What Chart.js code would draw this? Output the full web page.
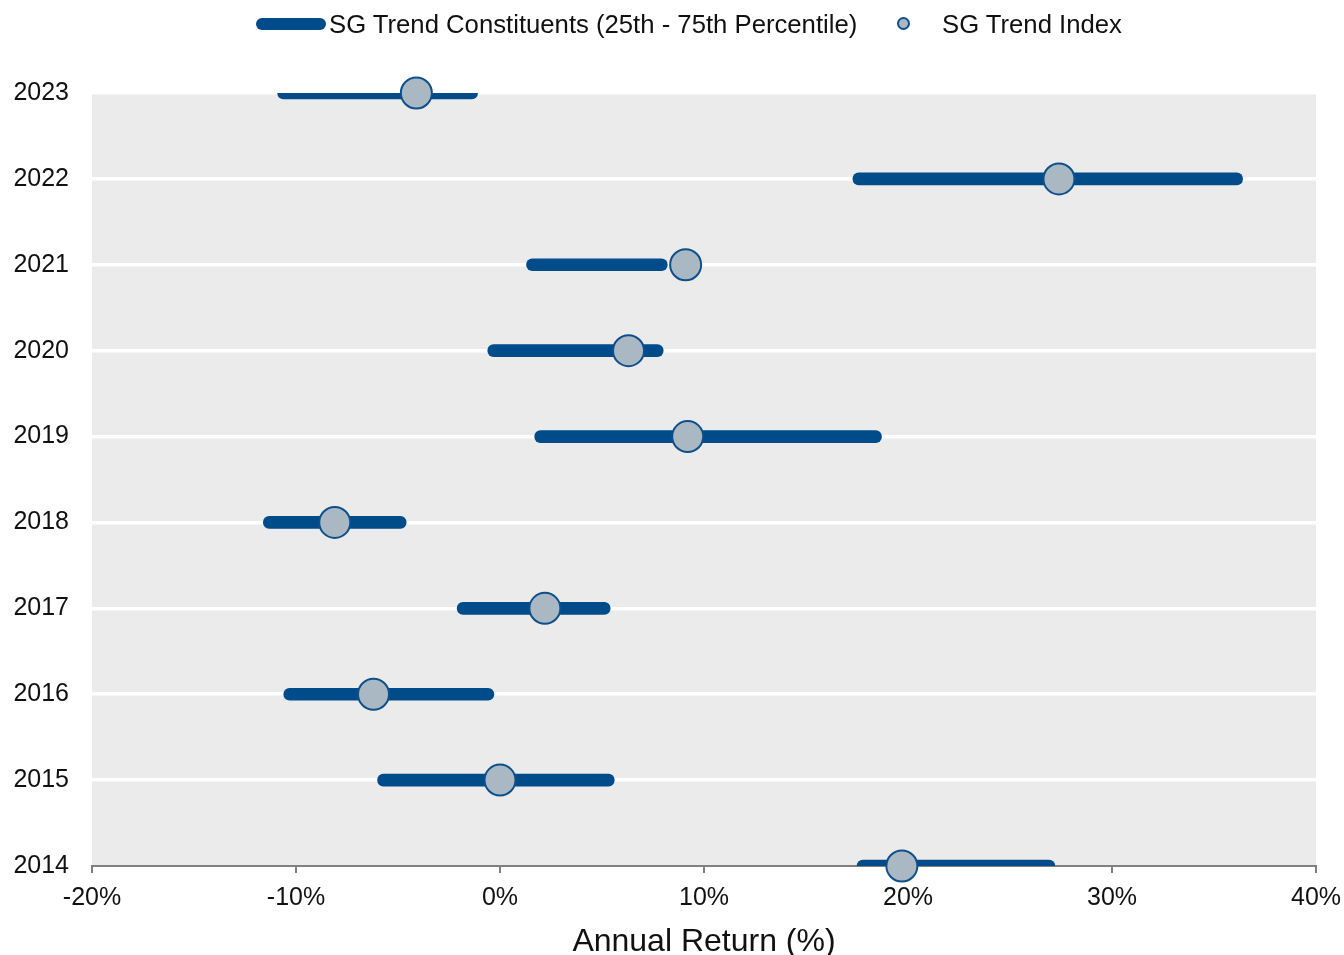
<!DOCTYPE html>
<html>
<head>
<meta charset="utf-8">
<script src="https://cdn.jsdelivr.net/npm/chart.js@4.4.0/dist/chart.umd.min.js"></script>
<style>
    html, body { margin: 0; padding: 0; background: #fff; }
    #wrap { position: relative; width: 1344px; height: 955px; }
    #legend {
        position: absolute; top: 8px; left: 0; width: 1344px; height: 32px;
        font-family: "Liberation Sans", Arial, sans-serif; font-size: 25.7px; color: #111;
    }
    .lg-item { position: absolute; top: 0; line-height: 32px; white-space: nowrap; }
    .lg-line { position: absolute; width: 70px; height: 12px; border-radius: 6px; background: #004c8a; top: 10px; }
    .lg-dot { position: absolute; width: 9px; height: 9px; border-radius: 50%; background: #a9b8c3; border: 2px solid #0d4f8b; top: 9px; }
</style>
</head>
<body>
<div id="wrap">
    <canvas id="chart"></canvas>
    <div id="legend">
        <div class="lg-line" style="left:256px"></div>
        <div class="lg-item" style="left:329px">SG Trend Constituents (25th - 75th Percentile)</div>
        <div class="lg-dot" style="left:897px"></div>
        <div class="lg-item" style="left:942px">SG Trend Index</div>
    </div>
</div>
<script>
// --- DATA ---
const years = ['2023', '2022', '2021', '2020', '2019', '2018', '2017', '2016', '2015', '2014'];
const pct25 = [-10.9, 17.3, 1.3, -0.6, 1.7, -11.6, -2.1, -10.6, -6.0, 17.5];
const pct75 = [-1.1, 36.4, 8.2, 8.0, 18.7, -4.6, 5.4, -0.3, 5.6, 27.2];
const indexReturn = [-4.1, 27.4, 9.1, 6.3, 9.2, -8.1, 2.2, -6.2, 0.0, 19.7];
const xTicks = [-20, -10, 0, 10, 20, 30, 40];

const BLUE = '#004c8a';
const FONT = '"Liberation Sans", Arial, sans-serif';

// grey plot background
const plotBackground = {
    id: 'plotBackground',
    beforeDraw(chart) {
        const { ctx, chartArea: a } = chart;
        ctx.save();
        ctx.fillStyle = '#ebebeb';
        ctx.fillRect(a.left, a.top, a.right - a.left, a.bottom - a.top);
        ctx.restore();
    }
};

new Chart(document.getElementById('chart'), {
    type: 'bar',
    data: {
        labels: years,
        datasets: [
            {
                type: 'line',
                label: 'SG Trend Index',
                data: indexReturn,
                showLine: false,
                pointRadius: 15.5,
                pointBackgroundColor: '#a9b8c3',
                pointBorderColor: '#0d4f8b',
                pointBorderWidth: 2,
                clip: false,
                order: 0
            },
            {
                label: 'SG Trend Constituents (25th - 75th Percentile)',
                data: years.map((y, i) => [pct25[i], pct75[i]]),
                backgroundColor: BLUE,
                barThickness: 12,
                borderRadius: 6,
                borderSkipped: false,
                clip: 0,
                order: 1
            }
        ]
    },
    options: {
        indexAxis: 'y',
        responsive: true,
        maintainAspectRatio: false,
        animation: false,
        layout: { padding: { top: 93, right: 28, left: 0, bottom: 0 } },
        plugins: {
            legend: { display: false },
            tooltip: { enabled: false }
        },
        scales: {
            x: {
                type: 'linear',
                min: -20,
                max: 40,
                afterBuildTicks: (scale) => { scale.ticks = xTicks.map(v => ({ value: v })); },
                afterFit: (scale) => {
                    scale.height = 89;
                    scale.paddingLeft = 0;
                    scale.paddingRight = 0;
                },
                ticks: {
                    callback: (v) => v + '%',
                    color: '#111',
                    font: { family: FONT, size: 25 },
                    padding: 10,
                    maxRotation: 0
                },
                grid: { drawOnChartArea: false, drawTicks: true, tickLength: 7, color: '#808080', lineWidth: 2 },
                border: { color: '#808080', width: 2 },
                title: {
                    display: true,
                    text: 'Annual Return (%)',
                    color: '#111',
                    font: { family: FONT, size: 32, lineHeight: 0.8 },
                    padding: 0
                }
            },
            y: {
                type: 'category',
                offset: false,
                afterFit: (scale) => { scale.width = 92; },
                ticks: {
                    color: '#111',
                    font: { family: FONT, size: 25 },
                    padding: 23
                },
                grid: {
                    offset: false,
                    color: (c) => c.index === years.length - 1 ? 'rgba(0,0,0,0)' : '#ffffff',
                    lineWidth: 3.5,
                    drawTicks: false
                },
                border: { display: false }
            }
        }
    },
    plugins: [plotBackground]
});
</script>
</body>
</html>
